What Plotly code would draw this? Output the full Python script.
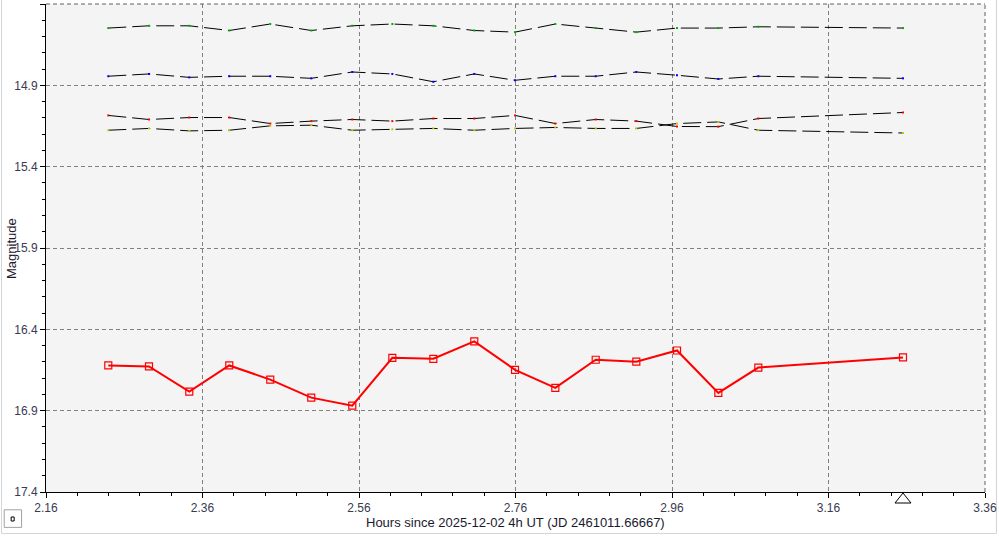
import plotly.graph_objects as go

# ---- data ----
hours = [2.2396, 2.2916, 2.3431, 2.3942, 2.4466, 2.4990, 2.5514, 2.6026, 2.6550,
         2.7073, 2.7594, 2.8109, 2.8625, 2.9144, 2.9664, 3.0192, 3.0703, 3.2552]

target_mag = [16.622, 16.628, 16.783, 16.622, 16.709, 16.820, 16.869, 16.575, 16.581,
              16.474, 16.649, 16.760, 16.587, 16.599, 16.530, 16.791, 16.635, 16.573]

comp1_mag = [14.548, 14.534, 14.534, 14.563, 14.523, 14.563, 14.534, 14.523, 14.534,
             14.563, 14.573, 14.523, 14.548, 14.573, 14.548, 14.548, 14.540, 14.548]
comp2_mag = [14.844, 14.830, 14.851, 14.844, 14.844, 14.857, 14.818, 14.830, 14.878,
             14.830, 14.869, 14.844, 14.844, 14.818, 14.838, 14.861, 14.844, 14.857]
comp3_mag = [15.085, 15.110, 15.098, 15.098, 15.135, 15.120, 15.110, 15.120, 15.104,
             15.104, 15.085, 15.135, 15.110, 15.120, 15.153, 15.154, 15.104, 15.067]
comp4_mag = [15.176, 15.165, 15.180, 15.176, 15.149, 15.145, 15.176, 15.170, 15.165,
             15.176, 15.165, 15.159, 15.165, 15.165, 15.135, 15.125, 15.176, 15.193]

comp_series = [comp1_mag, comp2_mag, comp3_mag, comp4_mag]
comp_dot_colors = ["#00b000", "#0000ff", "#ff0000", "#c8c800"]

marker_hour = 3.2552  # triangle marker on the time axis

x_range = [2.16, 3.36]
y_range = [17.4, 14.4]
x_title = "Hours since 2025-12-02 4h UT (JD 2461011.66667)"
y_title = "Magnitude"

FONT = "Liberation Sans, Arial, sans-serif"

fig = go.Figure()

for mags, col in zip(comp_series, comp_dot_colors):
    fig.add_trace(go.Scatter(
        x=hours, y=mags, mode="lines",
        line=dict(color="#000000", width=1, dash="18px,6px"),
        hoverinfo="skip", showlegend=False))
    fig.add_trace(go.Scatter(
        x=hours, y=mags, mode="markers",
        marker=dict(symbol="square", size=2, color=col, line=dict(width=0)),
        showlegend=False))

fig.add_trace(go.Scatter(
    x=hours, y=target_mag, mode="lines+markers",
    line=dict(color="#ff0000", width=2),
    marker=dict(symbol="square-open", size=7, color="#ff0000", line=dict(width=1.2, color="#ff0000")),
    showlegend=False))

axis_common = dict(
    showline=True, linecolor="#000000", linewidth=1, mirror=False,
    ticks="outside", ticklen=5, tickwidth=1, tickcolor="#000000",
    showgrid=True, gridcolor="#808080", gridwidth=1, griddash="4px,3px",
    zeroline=False, automargin=False,
    tickfont=dict(family=FONT, size=12, color="#3a3a50"),
)

fig.update_xaxes(
    range=x_range, tick0=2.16, dtick=0.2, tickformat=".2f",
    minor=dict(dtick=0.04, tick0=2.16, ticks="outside", ticklen=3, tickcolor="#000000", showgrid=False),
    **axis_common)
fig.update_yaxes(
    range=y_range, tick0=14.4, dtick=0.5, tickformat=".1f",
    minor=dict(dtick=0.1, tick0=14.4, ticks="outside", ticklen=3, tickcolor="#000000", showgrid=False),
    **axis_common)

fig.add_annotation(text=x_title, xref="paper", yref="paper", x=0.5, y=-0.0625,
                   xanchor="center", yanchor="middle", showarrow=False,
                   font=dict(family=FONT, size=13, color="#1a1a2e"))
fig.add_annotation(text=y_title, xref="paper", yref="paper", x=-0.0373, y=0.5,
                   xanchor="center", yanchor="middle", showarrow=False, textangle=-90,
                   font=dict(family=FONT, size=13, color="#1a1a2e"))

shapes = []
# top and right dashed border of plot area
shapes.append(dict(type="line", xref="paper", yref="paper", x0=0, x1=1, y0=1, y1=1,
                   line=dict(color="#606060", width=1, dash="4px,3px")))
shapes.append(dict(type="line", xref="paper", yref="paper", x0=1, x1=1, y0=0, y1=1,
                   line=dict(color="#606060", width=1, dash="4px,3px")))
# triangle marker below the time axis
shapes.append(dict(type="path", xref="x", yref="paper", xsizemode="pixel", ysizemode="pixel",
                   xanchor=marker_hour, yanchor=0,
                   path="M -8,-11 L 8,-11 L 0,-1 Z",
                   line=dict(color="#000000", width=1), fillcolor="rgba(0,0,0,0)"))
# small button bottom-left
shapes.append(dict(type="rect", xref="paper", yref="paper",
                   x0=-0.0445, x1=-0.026, y0=-0.0725, y1=-0.0365,
                   line=dict(color="#a0a0a0", width=1), fillcolor="#ffffff", layer="above"))
shapes.append(dict(type="rect", xref="paper", yref="paper",
                   x0=-0.0371, x1=-0.0339, y0=-0.0594, y1=-0.0512,
                   line=dict(color="#000000", width=1), fillcolor="#ffffff", layer="above"))
# window frame
shapes.append(dict(type="rect", xref="paper", yref="paper",
                   x0=-0.0474, x1=1.0122, y0=-0.085, y1=1.03,
                   line=dict(color="#d4d4dc", width=1), fillcolor="rgba(0,0,0,0)", layer="below"))

fig.update_layout(
    width=999, height=537,
    margin=dict(l=46, r=14, t=4, b=45),
    paper_bgcolor="#ffffff", plot_bgcolor="#f4f4f4",
    font=dict(family=FONT, size=12, color="#333333"),
    showlegend=False,
    shapes=shapes,
)

fig.write_html(
    "out.html",
    config={"displayModeBar": False},
    post_script="document.body.style.margin='0';document.body.style.overflow='hidden';",
)
